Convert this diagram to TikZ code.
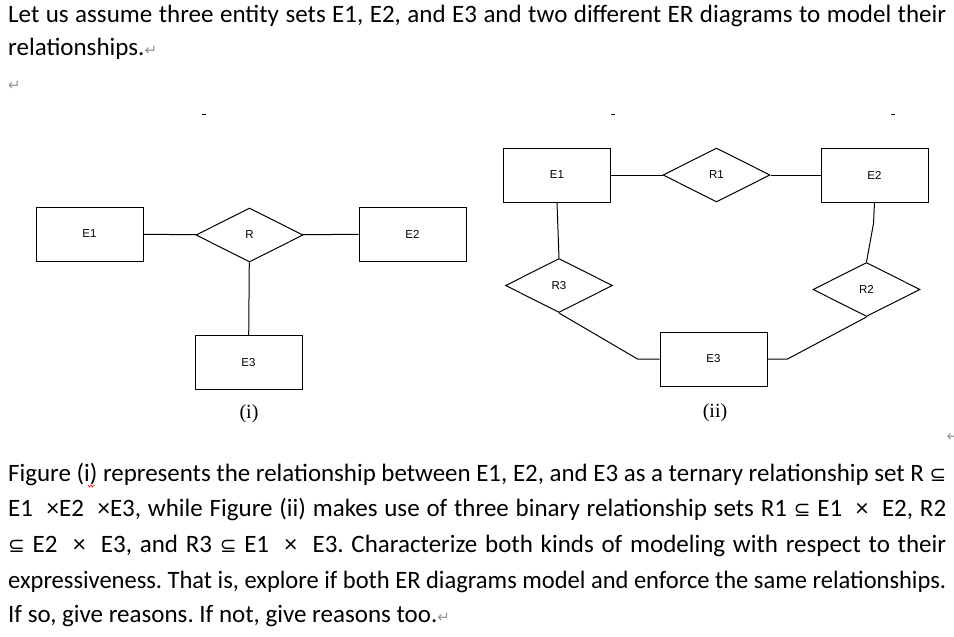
\documentclass[tikz,border=0pt]{standalone}
\usepackage{graphicx}
\usepackage{fontspec}
\setmainfont{Carlito}
\newfontfamily\diagfont{Liberation Sans}
\newfontfamily\capfont{Liberation Serif}
\newfontfamily\symf{DejaVu Sans}
\usetikzlibrary{shapes.geometric}
\frenchspacing

\definecolor{retgray}{RGB}{150,150,150}
\newcommand{\retm}{{\color{retgray}\symf\fontsize{15}{15}\selectfont ↵}}
\newcommand{\sbq}{{\symf\fontsize{20}{20}\selectfont ⊆}}
\newsavebox{\linebox}
\newcommand{\jline}[1]{\sbox{\linebox}{#1}%
  \ifdim\wd\linebox>938pt\resizebox{938pt}{\height}{\usebox{\linebox}}%
  \else\makebox[938pt][s]{#1}\fi}

\tikzset{
  entity/.style={draw, line width=1pt, minimum width=107pt, minimum height=54pt,
    inner sep=0pt, font=\diagfont\fontsize{11.5}{13}\selectfont},
  relation/.style={draw, diamond, aspect=2, line width=1pt, minimum width=107pt,
    minimum height=54pt, inner sep=0pt, font=\diagfont\fontsize{11.5}{13}\selectfont},
  er/.style={line width=1pt},
  para/.style={anchor=base west, inner sep=0pt, font=\fontsize{25}{30}\selectfont},
  figcap/.style={font=\capfont\fontsize{20}{24}\selectfont}
}

\begin{document}
\begin{tikzpicture}[x=1pt, y=-1pt]
  \useasboundingbox (0,0) rectangle (954,637);

  % text above the figures
  \node[para] (top1) at (8,22) {\jline{Let us assume three entity sets E1, E2, and E3 and two different ER diagrams to model their}};
  \node[para] (top2) at (8,56) {relationships.\retm};
  \node[para] (top3) at (8,90) {\retm};

  % cut off marks above the figures
  \draw (202,114) -- (206,114);
  \draw (611,114) -- (615,114);
  \draw (891,114) -- (895,114);

  % figure (i)
  \node[entity] (ea1) at (89.5,234) {E1};
  \node[relation] (ra) at (249.5,235) {R};
  \node[entity] (ea2) at (412.5,234) {E2};
  \node[entity] (ea3) at (248.5,362.5) {E3};

  \draw[er] (ea1) -- (ra);
  \draw[er] (ra) -- (ea2);
  \draw[er] (ra) -- (ea3);

  \node[figcap] (capa) at (249,414) {(i)};

  % figure (ii)
  \node[entity] (eb1) at (557,175) {E1};
  \node[relation] (rb1) at (716.5,175) {R1};
  \node[entity] (eb2) at (874.5,175) {E2};
  \node[relation] (rb3) at (559,285.5) {R3};
  \node[relation] (rb2) at (866.5,289.5) {R2};
  \node[entity] (eb3) at (713.5,359) {E3};

  \draw[er] (eb1) -- (rb1);
  \draw[er] (rb1) -- (eb2);
  \draw[er] (eb1.south) -- (rb3.north);
  \draw[er] (eb2.south) -- ++(-1,21) -- (rb2.north);
  \draw[er] (rb3.south) -- ([xshift=-22pt]eb3.west) -- (eb3.west);
  \draw[er] (rb2.south) -- ([xshift=20pt]eb3.east) -- (eb3.east);

  \node[figcap] (capb) at (715,413) {(ii)};

  % question text
  \node[anchor=base, inner sep=0pt] (rcut) at (953,441) {\retm};
  \node[para] (q1) at (8,481) {\jline{Figure (i) represents the relationship between E1, E2, and E3 as a ternary relationship set R \sbq}};
  \node[para] (q2) at (8,516) {\jline{E1 \ ×E2 \ ×E3, while Figure (ii) makes use of three binary relationship sets R1 \sbq\ E1 \ × \ E2, R2}};
  \node[para] (q3) at (8,552) {\jline{\sbq\ E2 \ × \ E3, and R3 \sbq\ E1 \ × \ E3. Characterize both kinds of modeling with respect to their}};
  \node[para] (q4) at (8,588) {\jline{expressiveness. That is, explore if both ER diagrams model and enforce the same relationships.}};
  \node[para] (q5) at (8,622) {If so, give reasons. If not, give reasons too.\retm};
  \draw[red, line width=0.6pt] (88,485) -- (89.5,487) -- (91,485) -- (92.5,487) -- (94,485);
\end{tikzpicture}
\end{document}
